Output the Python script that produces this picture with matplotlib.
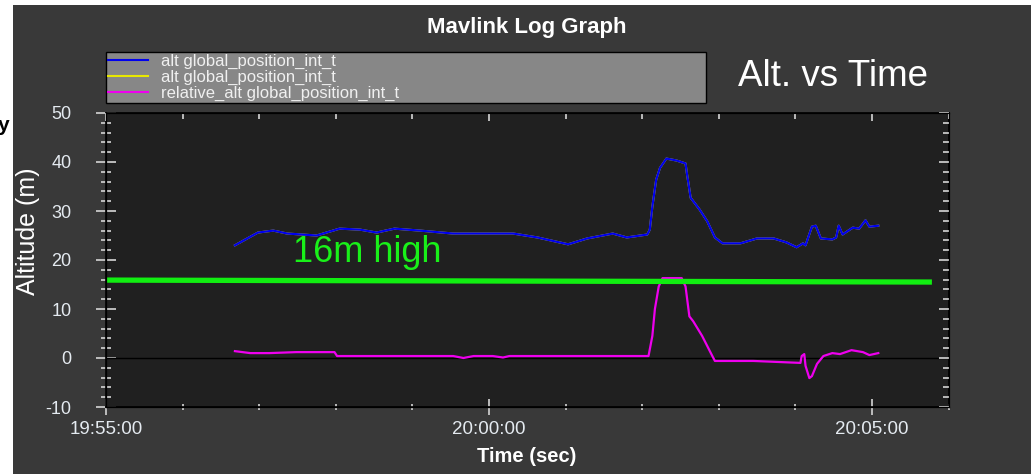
import pandas as pd
import matplotlib
matplotlib.use("Agg")
import matplotlib.pyplot as plt
import matplotlib.dates as mdates
from matplotlib.patches import Rectangle
from matplotlib.lines import Line2D

plt.rcParams['font.family'] = ['Liberation Sans', 'DejaVu Sans']
plt.rcParams['axes.unicode_minus'] = False

# alt global_position_int_t (m)
alt_times = ["19:56:41", "19:56:59", "19:57:11", "19:57:22", "19:57:45", "19:58:03",
             "19:58:19", "19:58:32", "19:58:46", "19:59:06", "19:59:32", "20:00:19",
             "20:00:38", "20:01:02", "20:01:17", "20:01:37", "20:01:48", "20:02:04",
             "20:02:06", "20:02:08", "20:02:11", "20:02:14", "20:02:19", "20:02:27",
             "20:02:34", "20:02:35", "20:02:38", "20:02:45", "20:02:51", "20:02:57",
             "20:03:03", "20:03:17", "20:03:30", "20:03:43", "20:03:53", "20:04:01",
             "20:04:06", "20:04:08", "20:04:13", "20:04:16", "20:04:20", "20:04:29",
             "20:04:32", "20:04:34", "20:04:37", "20:04:45", "20:04:50", "20:04:55",
             "20:04:58", "20:05:05"]
alt_values = [23.0, 25.6, 26.0, 25.4, 25.0, 26.4,
              26.2, 25.6, 26.4, 26.0, 25.4, 25.4,
              24.6, 23.2, 24.4, 25.4, 24.6, 25.2,
              26.2, 30.9, 36.4, 38.8, 40.7, 40.3,
              39.7, 37.8, 32.7, 30.3, 27.9, 24.6,
              23.4, 23.4, 24.4, 24.4, 23.6, 22.6,
              23.4, 23.0, 26.8, 27.0, 24.4, 24.2,
              24.6, 27.0, 25.2, 26.6, 26.4, 28.1,
              26.8, 27.0]

# relative_alt global_position_int_t (m)
rel_times = ["19:56:41", "19:56:53", "19:57:08", "19:57:29", "19:57:59", "19:58:01",
             "19:59:32", "19:59:40", "19:59:48", "20:00:03", "20:00:11", "20:00:16",
             "20:02:04", "20:02:05", "20:02:08", "20:02:10", "20:02:13", "20:02:16",
             "20:02:31", "20:02:34", "20:02:37", "20:02:40", "20:02:47", "20:02:55",
             "20:02:57", "20:03:27", "20:04:04", "20:04:05", "20:04:07", "20:04:08",
             "20:04:11", "20:04:13", "20:04:17", "20:04:22", "20:04:29", "20:04:35",
             "20:04:44", "20:04:53", "20:04:58", "20:05:05"]
rel_values = [1.4, 1.0, 1.0, 1.2, 1.2, 0.4,
              0.4, 0.0, 0.4, 0.4, 0.1, 0.4,
              0.4, 0.4, 4.5, 10.0, 14.6, 16.3,
              16.3, 14.6, 8.5, 7.5, 4.5, 0.4,
              -0.6, -0.6, -1.0, 0.4, 0.8, -1.6,
              -4.1, -3.7, -1.2, 0.4, 1.0, 0.8,
              1.6, 1.2, 0.6, 1.0]

# hand drawn 16 m marker
mark_times = ["19:55:00", "20:05:47"]
mark_values = [15.9, 15.5]

series_labels = ["alt global_position_int_t", "alt global_position_int_t",
                 "relative_alt global_position_int_t"]


def to_dt(times):
    return pd.to_datetime(["2020-01-01 " + t for t in times])


W, H = 1031, 474
fig = plt.figure(figsize=(W / 100, H / 100), dpi=100, facecolor='white')
fig.patches.append(Rectangle((13 / W, 0), 1, (H - 5) / H, transform=fig.transFigure,
                             facecolor='#393939', edgecolor='none', zorder=-10))

ax = fig.add_axes([106 / W, 1 - 407 / H, (948.5 - 106) / W, (407 - 113) / H])
ax.set_facecolor('#202020')
for s in ax.spines.values():
    s.set_color('black')
    s.set_linewidth(1.2)

ax.axhline(0, color='black', lw=1)
ax.plot(to_dt(alt_times), alt_values, color='#e8e800', lw=1.5)
ax.plot(to_dt(alt_times), alt_values, color='#0000ee', lw=1.6)
ax.plot(to_dt(rel_times), rel_values, color='#ee00ee', lw=1.6)
ax.plot(to_dt(mark_times), mark_values, color='#11ee11', lw=3.8, solid_capstyle='butt')
ax.text(pd.Timestamp("2020-01-01 19:58:25"), 19.5, "16m high", color='#19f019',
        fontsize=26, ha='center', va='baseline')

ax.set_xlim(pd.Timestamp("2020-01-01 19:55:00"), pd.Timestamp("2020-01-01 20:06:00"))
ax.set_ylim(-10, 50)
ax.xaxis.set_major_locator(mdates.MinuteLocator(byminute=range(0, 60, 5)))
ax.xaxis.set_minor_locator(mdates.MinuteLocator())
ax.xaxis.set_major_formatter(mdates.DateFormatter('%H:%M:%S'))
ax.set_yticks(range(-10, 51, 10))
ax.set_yticks(range(-10, 51, 2), minor=True)

tc = '#c8c8c8'
lc = '#e4eaf0'
ax.tick_params(axis='x', which='major', direction='inout', length=12, width=1.3,
               color=tc, labelcolor=lc, labelsize=13.5, pad=4)
ax.tick_params(axis='x', which='minor', direction='inout', length=5, width=1.3, color=tc)
ax.tick_params(axis='y', which='major', direction='inout', length=14, width=1.3,
               color=tc, labelcolor=lc, labelsize=13, pad=18)
ax.tick_params(axis='y', which='minor', direction='inout', length=7, width=1.3, color=tc)

# right and top ticks point inward only
axr = ax.twinx()
axr.set_ylim(ax.get_ylim())
axr.set_yticks(range(-10, 51, 10))
axr.set_yticks(range(-10, 51, 2), minor=True)
axr.tick_params(axis='y', which='major', direction='in', length=7, width=1.3,
                color=tc, labelright=False)
axr.tick_params(axis='y', which='minor', direction='in', length=4, width=1.3, color=tc)
axt = ax.twiny()
axt.set_xlim(ax.get_xlim())
axt.xaxis.set_major_locator(mdates.MinuteLocator(byminute=range(0, 60, 5)))
axt.xaxis.set_minor_locator(mdates.MinuteLocator())
axt.tick_params(axis='x', which='major', direction='in', length=6, width=1.3,
                color=tc, labeltop=False)
axt.tick_params(axis='x', which='minor', direction='in', length=4, width=1.3, color=tc)
for a in (axr, axt):
    for s in a.spines.values():
        s.set_color('black')

handles = [Line2D([], [], color=c, lw=1.5) for c in ('#0000ee', '#e8e800', '#ee00ee')]
leg = fig.legend(handles, series_labels, loc='upper left',
                 bbox_to_anchor=(106 / W, 1 - 52 / H, (706 - 106) / W, 0), mode='expand',
                 borderaxespad=0, borderpad=0.12, labelspacing=0.06, handlelength=2.4,
                 handletextpad=0.78, fontsize=12, labelcolor='#f0f0f0',
                 facecolor='#878787', edgecolor='black', framealpha=1, fancybox=False)
leg.get_frame().set_linewidth(1)

fig.text(527 / W, 1 - 28 / H, "Mavlink Log Graph", color='white', fontsize=16,
         fontweight='bold', ha='center', va='center')
fig.text(527 / W, 1 - 456 / H, "Time (sec)", color='white', fontsize=14.5,
         fontweight='bold', ha='center', va='center')
fig.text(28 / W, 1 - 231 / H, "Altitude (m)", color='white', fontsize=18,
         rotation=90, ha='center', va='center')
fig.text(833 / W, 1 - 76 / H, "Alt. vs Time", color='white', fontsize=26.5,
         ha='center', va='center')
fig.text(-2 / W, 1 - 131 / H, "y", color='black', fontsize=15, fontweight='bold',
         ha='left', va='baseline')

fig.savefig("out.png", dpi=100, facecolor=fig.get_facecolor())
